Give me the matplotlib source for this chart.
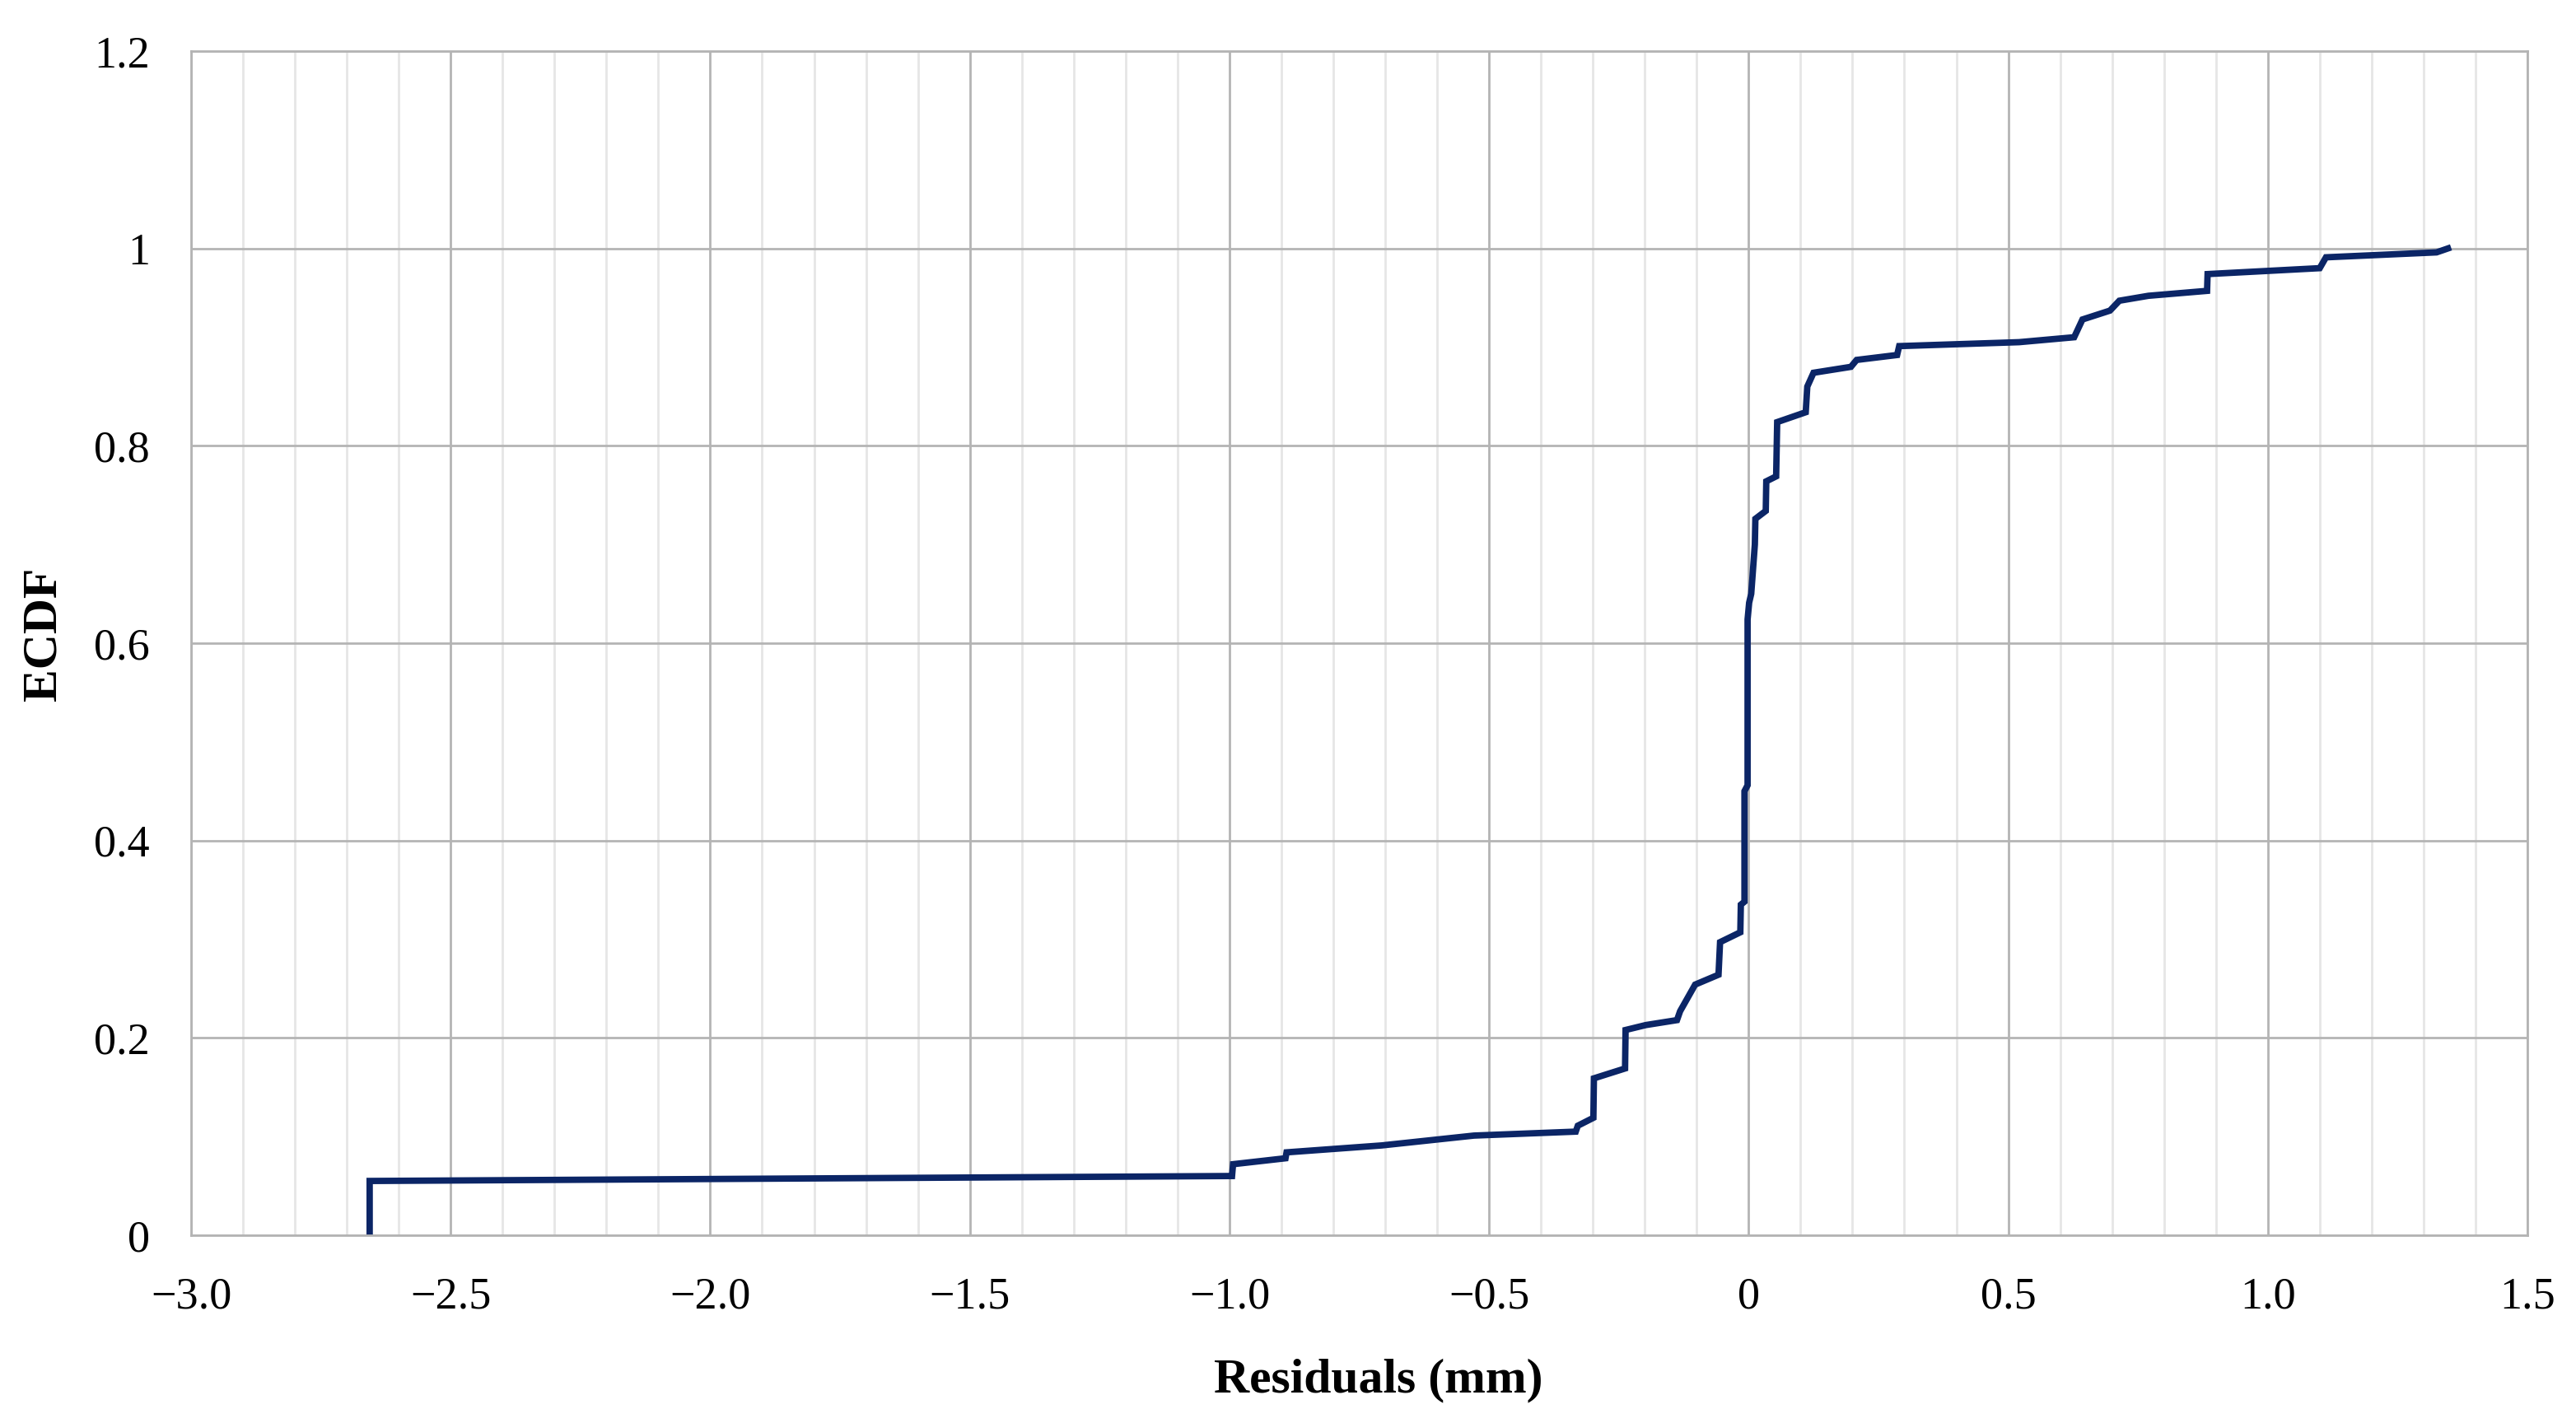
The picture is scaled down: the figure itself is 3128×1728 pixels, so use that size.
import numpy as np
import matplotlib
matplotlib.use("Agg")
import matplotlib.pyplot as plt
from matplotlib.ticker import MultipleLocator, FuncFormatter

# ECDF of residuals
residuals = [-2.656, -2.656, -1.000, -0.995, -0.993, -0.892, -0.890, -0.707, -0.618, -0.529,
             -0.333, -0.329, -0.299, -0.298, -0.238, -0.237, -0.198, -0.138, -0.132, -0.103,
             -0.058, -0.055, -0.016, -0.015, -0.008, -0.008, -0.002, -0.002, 0.001, 0.005,
             0.012, 0.013, 0.033, 0.034, 0.053, 0.055, 0.110, 0.113, 0.125, 0.197,
             0.208, 0.286, 0.290, 0.521, 0.627, 0.643, 0.696, 0.714, 0.770, 0.883,
             0.884, 1.100, 1.112, 1.325, 1.347]
ecdf = [0.003, 0.055, 0.060, 0.060, 0.072, 0.078, 0.084, 0.091, 0.096, 0.101,
        0.105, 0.111, 0.119, 0.159, 0.169, 0.208, 0.213, 0.218, 0.227, 0.254,
        0.264, 0.297, 0.307, 0.335, 0.338, 0.450, 0.456, 0.624, 0.641, 0.650,
        0.700, 0.726, 0.734, 0.764, 0.769, 0.824, 0.834, 0.860, 0.874, 0.880,
        0.887, 0.892, 0.901, 0.905, 0.910, 0.928, 0.937, 0.947, 0.952, 0.957,
        0.974, 0.980, 0.991, 0.996, 1.000]

x_range = (-3.0, 1.5)
y_range = (0, 1.2)

plt.rcParams["font.family"] = ["Liberation Serif", "DejaVu Serif"]

fig = plt.figure(figsize=(15.64, 8.64), dpi=200)
W, H = 3128, 1728
ax = fig.add_axes([232 / W, 1 - 1500 / H, (3069 - 232) / W, (1500 - 62) / H])

ax.plot(residuals, ecdf, color="#0b2566", lw=2.8, solid_joinstyle="miter")

ax.set_xlim(*x_range)
ax.set_ylim(*y_range)
ax.xaxis.set_major_locator(MultipleLocator(0.5))
ax.xaxis.set_minor_locator(MultipleLocator(0.1))
ax.yaxis.set_major_locator(MultipleLocator(0.2))


def fmt_x(v, pos):
    if abs(v) < 1e-9:
        return "0"
    return f"{v:.1f}".replace("-", "\u2212")


def fmt_y(v, pos):
    if abs(v) < 1e-9:
        return "0"
    if abs(v - 1) < 1e-9:
        return "1"
    return f"{v:.1f}"


ax.xaxis.set_major_formatter(FuncFormatter(fmt_x))
ax.yaxis.set_major_formatter(FuncFormatter(fmt_y))

ax.grid(which="major", color="#b4b4b4", lw=1.0)
ax.grid(which="minor", axis="x", color="#e6e6e6", lw=1.0)
ax.set_axisbelow(True)
for s in ax.spines.values():
    s.set_color("#b4b4b4")
    s.set_linewidth(1.0)

ax.tick_params(which="both", length=0, labelsize=19.5, colors="black")
ax.tick_params(axis="x", pad=18)
ax.tick_params(axis="y", pad=18)

# axis titles placed where the reference has them
fig.text(1674 / W, 1 - 1676 / H, "Residuals (mm)", fontsize=21.5, fontweight="bold",
         ha="center", va="center")
fig.text(54 / W, 1 - 770 / H, "ECDF", fontsize=21.5, fontweight="bold",
         ha="center", va="center", rotation=90)

fig.savefig("out.png", dpi=200, facecolor="white")
